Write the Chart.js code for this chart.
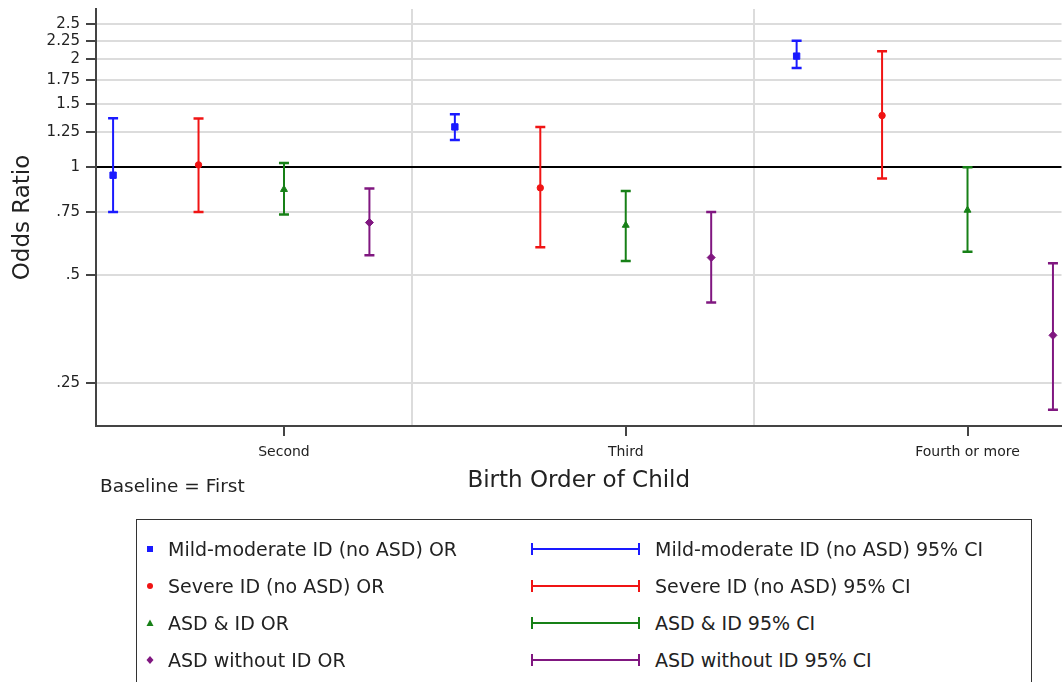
<!DOCTYPE html>
<html>
<head>
<meta charset="utf-8">
<script src="https://cdn.jsdelivr.net/npm/chart.js@4"></script>
<style>
  html, body { margin: 0; padding: 0; background: #fff; overflow: hidden; }
  body { width: 1062px; height: 682px; position: relative; font-family: 'DejaVu Sans', sans-serif; color: #222; }
  #wrap { position: absolute; left: 0; top: 0; width: 1069px; height: 495px; }
  #baseline { position: absolute; left: 100px; top: 474px; font-size: 18.5px; line-height: 24px; }
  #legendBox { position: absolute; left: 136px; top: 519px; width: 894px; height: 200px; border: 1.5px solid #333; background: #fff; }
  .row { position: absolute; height: 24px; line-height: 24px; font-size: 19px; white-space: nowrap; }
  .row svg { position: absolute; top: 0; }
</style>
</head>
<body>
<div id="wrap"><canvas id="orChart"></canvas></div>
<div id="baseline">Baseline = First</div>
<div id="legendBox"></div>

<script>
// Birth order groups (baseline = first child)
const groups = ['Second', 'Third', 'Fourth or more'];

const seriesNames = ['Mild-moderate ID (no ASD)', 'Severe ID (no ASD)', 'ASD & ID', 'ASD without ID'];
const seriesColors = ['#1a1aff', '#f01414', '#178017', '#801780'];
const seriesMarkers = ['rect', 'circle', 'triangle', 'rectRot'];

// odds ratios and 95% CI bounds, one value per group
const orMild = [0.95, 1.295, 2.04];
const loMild = [0.75, 1.19, 1.89];
const hiMild = [1.37, 1.405, 2.25];

const orSevere = [1.015, 0.876, 1.393];
const loSevere = [0.75, 0.598, 0.93];
const hiSevere = [1.367, 1.295, 2.106];

const orAsdId = [0.867, 0.689, 0.759];
const loAsdId = [0.738, 0.548, 0.581];
const hiAsdId = [1.028, 0.859, 1.0];

const orAsdNoId = [0.701, 0.56, 0.34];
const loAsdNoId = [0.568, 0.42, 0.211];
const hiAsdNoId = [0.872, 0.75, 0.54];

const yTicks = [0.25, 0.5, 0.75, 1, 1.25, 1.5, 1.75, 2, 2.25, 2.5];
const yTickLabels = ['.25', '.5', '.75', '1', '1.25', '1.5', '1.75', '2', '2.25', '2.5'];

const orValues = [orMild, orSevere, orAsdId, orAsdNoId];
const loValues = [loMild, loSevere, loAsdId, loAsdNoId];
const hiValues = [hiMild, hiSevere, hiAsdId, hiAsdNoId];

// each group holds 4 slots, one per series
const xPos = (g, s) => g * 4 + s + 1;
const groupCenters = groups.map((_, g) => xPos(g, 2));
const separators = [4.5, 8.5];

const datasets = [];
seriesNames.forEach((name, s) => {
  datasets.push({
    label: name + ' OR',
    data: orValues[s].map((v, g) => ({ x: xPos(g, s), y: v })),
    showLine: false,
    pointStyle: seriesMarkers[s],
    pointRadius: s === 0 ? 4.5 : (s === 1 ? 3.2 : 4),
    pointHoverRadius: s === 0 ? 4.5 : 4,
    backgroundColor: seriesColors[s],
    borderColor: seriesColors[s],
    pointBorderWidth: 1,
    order: 0
  });
  const ci = [];
  groups.forEach((_, g) => {
    ci.push({ x: xPos(g, s), y: loValues[s][g] });
    ci.push({ x: xPos(g, s), y: hiValues[s][g] });
    ci.push({ x: xPos(g, s), y: null });
  });
  datasets.push({
    label: name + ' 95% CI',
    data: ci,
    showLine: true,
    spanGaps: false,
    borderColor: seriesColors[s],
    borderWidth: 2,
    pointStyle: 'line',
    pointRadius: 5,
    pointHoverRadius: 5,
    pointBorderColor: seriesColors[s],
    pointBorderWidth: 2.5,
    order: 1
  });
});

const isSep = v => separators.includes(v);

new Chart(document.getElementById('orChart'), {
  type: 'scatter',
  data: { datasets: datasets },
  options: {
    responsive: true,
    maintainAspectRatio: false,
    animation: false,
    events: [],
    layout: { padding: { top: 9, left: 0, right: 0, bottom: 0 } },
    plugins: {
      legend: { display: false },
      tooltip: { enabled: false }
    },
    scales: {
      x: {
        type: 'linear',
        min: 0.8,
        max: 12.1,
        afterBuildTicks: scale => {
          scale.ticks = [...groupCenters, ...separators].sort((a, b) => a - b).map(v => ({ value: v }));
        },
        afterFit: scale => {
          scale.height = 69;
          scale.paddingLeft = 0;
          scale.paddingRight = 0;
        },
        ticks: {
          autoSkip: false,
          maxRotation: 0,
          padding: 8,
          color: '#222',
          font: { family: 'DejaVu Sans', size: 14 },
          callback: v => {
            const g = groupCenters.indexOf(v);
            return g >= 0 ? groups[g] : '';
          }
        },
        grid: {
          drawOnChartArea: true,
          color: ctx => (ctx.tick && isSep(ctx.tick.value)) ? '#dcdcdc' : 'rgba(0,0,0,0)',
          tickColor: ctx => (ctx.tick && isSep(ctx.tick.value)) ? 'rgba(0,0,0,0)' : '#444',
          lineWidth: 2,
          tickLength: 10
        },
        border: { display: true, color: '#444', width: 2 },
        title: {
          display: true,
          text: 'Birth Order of Child',
          color: '#222',
          font: { family: 'DejaVu Sans', size: 23 },
          padding: { top: 0, bottom: 0 }
        }
      },
      y: {
        type: 'logarithmic',
        min: 0.19,
        max: 2.76,
        afterBuildTicks: scale => {
          scale.ticks = yTicks.map(v => ({ value: v }));
        },
        afterFit: scale => {
          scale.width = 96;
          scale.paddingTop = 0;
          scale.paddingBottom = 0;
        },
        ticks: {
          autoSkip: false,
          padding: 6,
          color: '#222',
          font: { family: 'DejaVu Sans', size: 15 },
          callback: (v, i) => yTickLabels[i]
        },
        grid: {
          color: ctx => (ctx.tick && ctx.tick.value === 1) ? '#000' : '#dcdcdc',
          tickColor: '#444',
          lineWidth: 2,
          tickLength: 10
        },
        border: { display: true, color: '#444', width: 2 },
        title: {
          display: true,
          text: 'Odds Ratio',
          color: '#222',
          font: { family: 'DejaVu Sans', size: 23 },
          padding: { top: 9, bottom: 0 }
        }
      }
    }
  }
});

// legend drawn as html: marker column and CI column
const legendBox = document.getElementById('legendBox');
const markerSvg = (shape, color) => {
  let inner = '';
  if (shape === 'rect') inner = `<rect x="3" y="9" width="6" height="6" fill="${color}"/>`;
  if (shape === 'circle') inner = `<circle cx="6" cy="12" r="3" fill="${color}"/>`;
  if (shape === 'triangle') inner = `<polygon points="6,8.5 9.5,15 2.5,15" fill="${color}"/>`;
  if (shape === 'rectRot') inner = `<polygon points="6,8 9.5,12 6,16 2.5,12" fill="${color}"/>`;
  return `<svg width="12" height="24" style="left:3px">${inner}</svg>`;
};
const ciSvg = color =>
  `<svg width="110" height="24" style="left:0">` +
  `<line x1="1" y1="12" x2="109" y2="12" stroke="${color}" stroke-width="2"/>` +
  `<line x1="1" y1="6" x2="1" y2="18" stroke="${color}" stroke-width="2"/>` +
  `<line x1="108" y1="6" x2="108" y2="18" stroke="${color}" stroke-width="2"/></svg>`;

seriesNames.forEach((name, s) => {
  const top = 17 + s * 37;
  const left = document.createElement('div');
  left.className = 'row';
  left.style.left = '4px';
  left.style.top = top + 'px';
  left.innerHTML = markerSvg(seriesMarkers[s], seriesColors[s]) + `<span style="position:absolute;left:27px">${name} OR</span>`;
  legendBox.appendChild(left);

  const right = document.createElement('div');
  right.className = 'row';
  right.style.left = '394px';
  right.style.top = top + 'px';
  right.innerHTML = ciSvg(seriesColors[s]) + `<span style="position:absolute;left:124px">${name} 95% CI</span>`;
  legendBox.appendChild(right);
});
</script>
</body>
</html>
